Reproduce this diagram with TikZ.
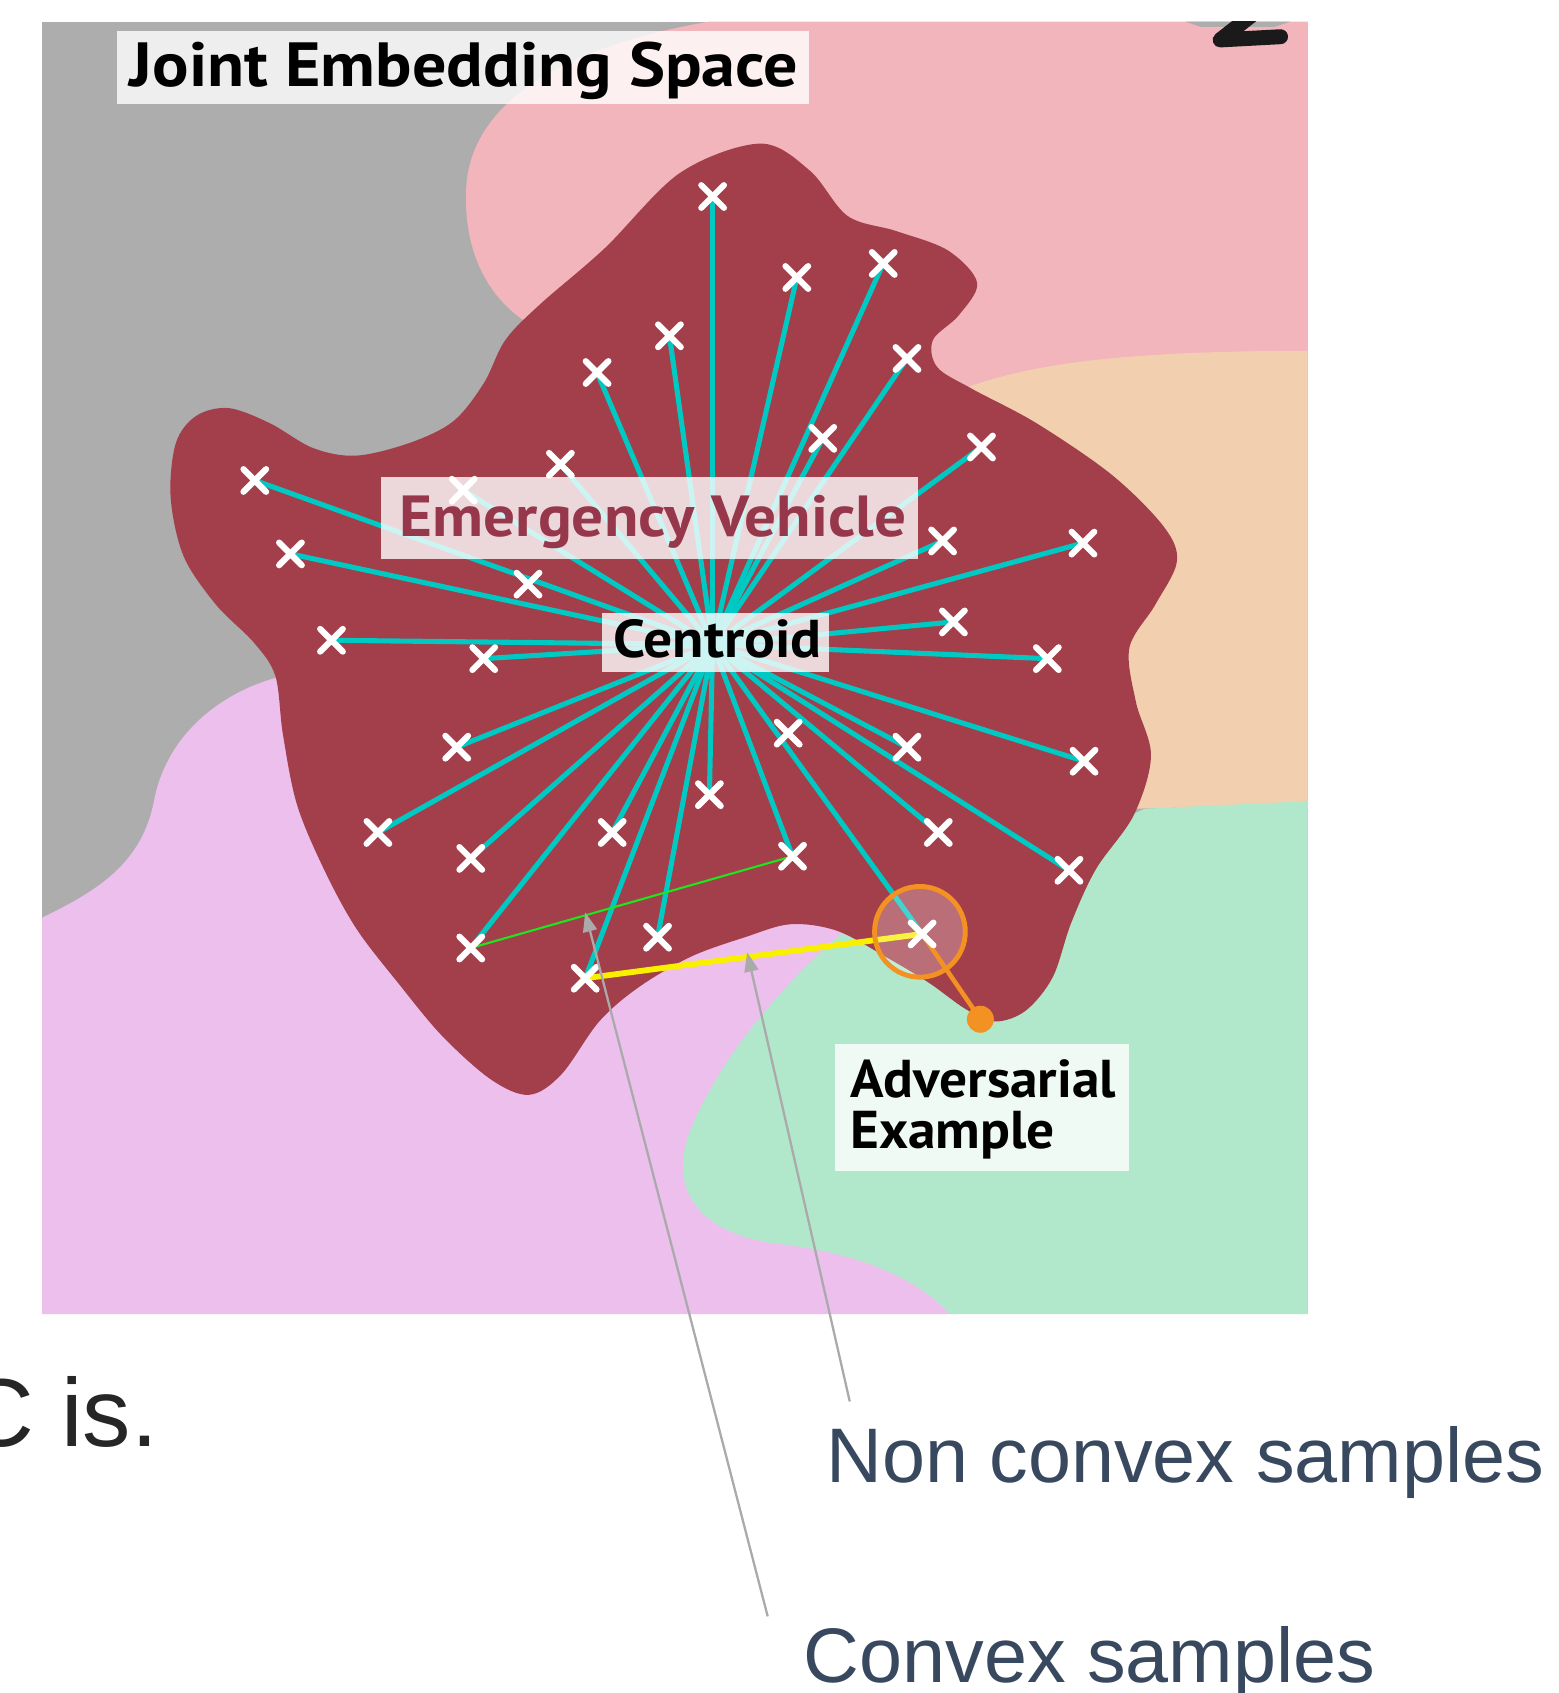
\documentclass[tikz,border=0pt]{standalone}
\usepackage{fontspec}
\usepackage{graphicx}
\newfontfamily\labelfont{PT Sans}
\newfontfamily\notefont{Liberation Sans}
\usetikzlibrary{shapes.misc,arrows.meta}
\definecolor{bggray}{RGB}{173,173,173}
\definecolor{bgpink}{RGB}{242,181,187}
\definecolor{bgpeach}{RGB}{242,208,175}
\definecolor{bggreen}{RGB}{177,232,203}
\definecolor{bglav}{RGB}{237,191,237}
\definecolor{blobred}{RGB}{163,62,75}
\definecolor{raycyan}{RGB}{0,200,195}
\definecolor{evtext}{RGB}{150,55,75}
\definecolor{noteblue}{RGB}{55,72,95}
\definecolor{advorange}{RGB}{243,146,34}
\definecolor{convgreen}{RGB}{30,230,30}
\definecolor{convyellow}{RGB}{248,240,0}
\definecolor{arrgray}{RGB}{170,170,170}
\definecolor{glyphblack}{RGB}{26,26,26}
\newcommand{\wide}[1]{\scalebox{1.08}[1]{#1}}
\begin{document}
\begin{tikzpicture}[x=0.021594cm,y=-0.021594cm,
  ray/.style={draw=raycyan, line width=2.9pt},
  xmark/.style={cross out, draw=white, line width=3.5pt, line cap=round,
    minimum size=21*0.021594cm, inner sep=0pt, outer sep=0pt},
  labelbox/.style={fill=white, fill opacity=0.8, draw=none, inner sep=0pt, anchor=north west},
  boldlabel/.style={font=\fontsize{30.3pt}{36pt}\selectfont\labelfont\bfseries, inner sep=0pt, anchor=base west},
  notelabel/.style={font=\fontsize{44pt}{50pt}\selectfont\notefont, text=noteblue, inner sep=0pt, anchor=base west},
  pointer/.style={draw=arrgray, line width=1.3pt, -{Triangle[length=11pt,width=8pt]}}
]
\useasboundingbox (0,0) rectangle (1443,1568);

% ---------- background regions ----------
\begin{scope}
\clip (39,20) rectangle (1211,1217);
\fill[bggray] (39,20) rectangle (1211,1217);
% pink region (top right)
\fill[bgpink] (657,20) .. controls (540,40) and (440,85) .. (432,170)
  .. controls (428,230) and (450,275) .. (490,300) -- (700,420) -- (1211,420) -- (1211,20) -- cycle;
% peach region (right middle)
\fill[bgpeach] (870,370) .. controls (940,335) and (1050,325) .. (1211,325)
  -- (1211,745) -- (1050,749) -- (860,600) -- cycle;
% lavender region (bottom left)
\fill[bglav] (39,850) .. controls (90,825) and (132,800) .. (143,740)
  .. controls (155,680) and (205,640) .. (262,626) -- (700,700) -- (790,860) -- (880,1217) -- (39,1217) -- cycle;
% green region (bottom right)
\fill[bggreen] (1211,1217) -- (880,1217) .. controls (845,1180) and (790,1160) .. (720,1152)
  .. controls (645,1142) and (618,1100) .. (640,1045)
  .. controls (668,980) and (720,915) .. (785,860) -- (950,800) -- (1060,749) -- (1211,742) -- cycle;
% top glyph fragment
\fill[bggray] (1098,20) -- (1195,20) -- (1180,25) -- (1112,25) -- cycle;
\draw[glyphblack, line width=8.5pt, line cap=round, line join=round] (1162,12) -- (1130,37) -- (1186,34);
\end{scope}

% ---------- class blob ----------
\fill[blobred] plot[smooth cycle, tension=0.55] coordinates {
 (704,133) (750,158) (785,200) (830,214) (878,232) (905,262) (888,292) (864,315)
 (868,340) (900,360) (960,392) (1030,440) (1078,488) (1090,520) (1070,560) (1046,600)
 (1052,650) (1066,700) (1050,755) (1015,805) (992,855) (975,905) (950,936) (922,946)
 (895,935) (860,910) (820,886) (775,862) (732,856) (690,868) (640,886) (592,914)
 (555,946) (520,995) (490,1014) (455,1000) (410,960) (370,912) (330,860) (300,805)
 (275,745) (262,680) (255,626) (235,595) (200,560) (170,515) (158,460) (163,410)
 (182,385) (212,378) (250,392) (290,415) (330,422) (380,410) (420,390) (448,355)
 (468,315) (500,282) (560,230) (630,160)};

% ---------- sample points ----------
\coordinate (cen) at (660,597);
\coordinate (p1) at (660,182);
\coordinate (p2) at (738,257);
\coordinate (p3) at (818,244);
\coordinate (p4) at (620,311);
\coordinate (p5) at (553,345);
\coordinate (p6) at (840,332);
\coordinate (p7) at (762,406);
\coordinate (p8) at (909,414);
\coordinate (p9) at (236,445);
\coordinate (p10) at (519,430);
\coordinate (p11) at (429,454);
\coordinate (p12) at (269,513);
\coordinate (p13) at (489,541);
\coordinate (p14) at (873,501);
\coordinate (p15) at (1003,503);
\coordinate (p16) at (307,593);
\coordinate (p17) at (448,610);
\coordinate (p18) at (883,576);
\coordinate (p19) at (970,610);
\coordinate (p20) at (423,692);
\coordinate (p21) at (730,679);
\coordinate (p22) at (840,692);
\coordinate (p23) at (1004,705);
\coordinate (p24) at (657,736);
\coordinate (p25) at (350,771);
\coordinate (p26) at (436,795);
\coordinate (p27) at (567,771);
\coordinate (p28) at (869,771);
\coordinate (p29) at (734,793);
\coordinate (p30) at (990,806);
\coordinate (p31) at (436,878);
\coordinate (p32) at (609,868);
\coordinate (p33) at (542,906);
\coordinate (p34) at (854,865);

% rays from the centroid
\foreach \i in {1,2,3,4,5,6,7,8,9,10,11,12,14,15,16,17,18,19,20,22,23,24,25,26,27,28,29,30,31,32,33,34}
  \draw[ray] (cen) -- (p\i);

% convex / non convex segments
\draw[convgreen, line width=1.2pt] (p31) -- (p29);
\draw[convyellow, line width=3.3pt] (p33) -- (p34);

% adversarial marker
\node[circle, draw=advorange, line width=2.8pt, fill=white, fill opacity=0.25, draw opacity=1,
  minimum size=84*0.021594cm, inner sep=0pt] (advring) at (852,863) {};
\node[circle, fill=advorange, minimum size=25*0.021594cm, inner sep=0pt] (advdot) at (908,944) {};
\draw[advorange, line width=2.6pt] (p34) -- (advdot.center);

% crosses
\foreach \i in {1,...,34}
  \node[xmark] (x\i) at (p\i) {};

% ---------- labels ----------
\node[labelbox, minimum width=641*0.021594cm, minimum height=68*0.021594cm] (jesbox) at (108,28) {};
\node[boldlabel, font=\fontsize{35.5pt}{42pt}\selectfont\labelfont\bfseries] (jes) at (120,80) {\scalebox{1.09}[1]{Joint Embedding Space}};

\node[labelbox, minimum width=497*0.021594cm, minimum height=76*0.021594cm] (evbox) at (353,441) {};
\node[boldlabel, text=evtext, font=\fontsize{33pt}{40pt}\selectfont\labelfont\bfseries] (ev) at (370,497) {\scalebox{1.09}[1]{Emergency Vehicle}};

\node[labelbox, minimum width=210*0.021594cm, minimum height=55*0.021594cm] (cenbox) at (557,567) {};
\node[boldlabel] (centext) at (568,609) {\wide{Centroid}};

\node[labelbox, minimum width=272*0.021594cm, minimum height=117*0.021594cm] (advbox) at (773,967) {};
\node[boldlabel] (adv1) at (787,1016) {\scalebox{1.04}[1]{Adversarial}};
\node[boldlabel] (adv2) at (787,1064) {\scalebox{1.04}[1]{Example}};

% ---------- annotations ----------
\node[font=\fontsize{55pt}{60pt}\selectfont\notefont, text=black!85, inner sep=0pt, anchor=base west] (cis) at (-33,1340) {C is.};
\node[notelabel] (nonconv) at (765,1373) {Non convex samples};
\node[notelabel] (conv) at (744,1558) {Convex samples};
\coordinate (ncstart) at (787,1298);
\coordinate (ncend) at (692,882);
\coordinate (cvstart) at (711,1497);
\coordinate (cvend) at (542,845);
\draw[pointer] (ncstart) -- (ncend);
\draw[pointer] (cvstart) -- (cvend);
\end{tikzpicture}
\end{document}
